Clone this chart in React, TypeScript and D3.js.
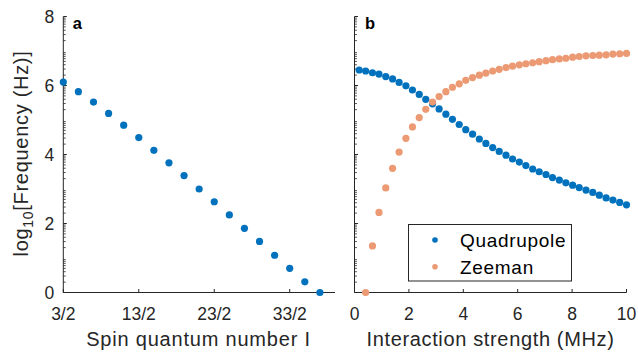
import React, { useEffect, useRef } from "react";
import * as d3 from "d3";

// panel a: spin quantum number I (as numbers) and log10 frequency
const spinValues = [1.5, 2.5, 3.5, 4.5, 5.5, 6.5, 7.5, 8.5, 9.5, 10.5, 11.5, 12.5, 13.5, 14.5, 15.5, 16.5, 17.5, 18.5];
const spinFreq = [6.1, 5.82, 5.52, 5.19, 4.85, 4.49, 4.12, 3.76, 3.39, 3.0, 2.63, 2.25, 1.86, 1.48, 1.08, 0.7, 0.31, 0.0];
const spinTicks = [1.5, 6.5, 11.5, 16.5];
const spinTickLabels = ["3/2", "13/2", "23/2", "33/2"];

// panel b: interaction strength (MHz)
const strength = [
  0.17, 0.41, 0.66, 0.9, 1.15, 1.4, 1.64, 1.89, 2.13, 2.38,
  2.62, 2.87, 3.11, 3.36, 3.6, 3.85, 4.09, 4.34, 4.59, 4.83,
  5.08, 5.32, 5.57, 5.81, 6.06, 6.3, 6.55, 6.79, 7.04, 7.28,
  7.53, 7.77, 8.02, 8.26, 8.51, 8.76, 9.0, 9.25, 9.5, 9.75, 10.0,
];
const quadrupole = [
  6.45, 6.42, 6.37, 6.33, 6.26, 6.19, 6.09, 5.99, 5.87, 5.74,
  5.6, 5.47, 5.32, 5.17, 5.02, 4.87, 4.72, 4.59, 4.45, 4.32,
  4.2, 4.09, 3.98, 3.87, 3.78, 3.68, 3.58, 3.5, 3.42, 3.33,
  3.26, 3.18, 3.11, 3.04, 2.97, 2.9, 2.82, 2.74, 2.68, 2.61, 2.54,
];
// zeeman starts at the second strength value
const zeeman = [
  0.0, 1.35, 2.32, 3.03, 3.6, 4.07, 4.47, 4.8, 5.07, 5.31,
  5.52, 5.68, 5.82, 5.95, 6.05, 6.15, 6.23, 6.3, 6.36, 6.42,
  6.47, 6.52, 6.56, 6.6, 6.63, 6.66, 6.69, 6.72, 6.75, 6.77,
  6.79, 6.82, 6.84, 6.86, 6.87, 6.88, 6.89, 6.91, 6.92, 6.93,
];
const yTicks = [0, 2, 4, 6, 8];
const bTicks = [0, 2, 4, 6, 8, 10];

const BLUE = "#0072BD";
const ORANGE = "#EC9A74";
const INK = "#262626";
const FONT = "'Liberation Sans', Arial, Helvetica, sans-serif";

function App() {
  const ref = useRef<SVGSVGElement>(null);

  useEffect(() => {
    const svg = d3.select(ref.current);
    svg.selectAll("*").remove();

    const y = d3.scaleLinear().domain([0, 8]).range([292.5, 16.5]);
    const xa = d3.scaleLinear().domain([1.5, 19.5]).range([63.3, 335]);
    const xb = d3.scaleLinear().domain([0, 10]).range([354.5, 626.5]);

    // log style minor ticks: n + log10(k)
    const minor: number[] = [];
    for (let n = 0; n < 8; n++) {
      for (let k = 2; k <= 9; k++) minor.push(n + Math.log10(k));
    }

    function drawAxes(x: d3.ScaleLinear<number, number>, xt: number[], xl: string[], showY: boolean) {
      const g = svg.append("g");
      const [x0, x1] = x.range();
      const [y0, y1] = y.range();

      g.append("line").attr("x1", x0).attr("x2", x1).attr("y1", y0).attr("y2", y0)
        .attr("stroke", INK).attr("stroke-width", 1);
      g.append("line").attr("x1", x0).attr("x2", x0).attr("y1", y0).attr("y2", y1)
        .attr("stroke", INK).attr("stroke-width", 1);

      // x ticks (inward)
      g.selectAll(".xt").data(xt).enter().append("line")
        .attr("x1", d => x(d)).attr("x2", d => x(d))
        .attr("y1", y0).attr("y2", y0 - 3.5)
        .attr("stroke", INK);
      g.selectAll(".xl").data(xt).enter().append("text")
        .attr("x", d => x(d)).attr("y", 319.5)
        .attr("text-anchor", "middle")
        .attr("font-size", 17.5).attr("fill", INK).attr("font-family", FONT)
        .text((d, i) => xl[i]);

      // y ticks
      g.selectAll(".yt").data(yTicks).enter().append("line")
        .attr("x1", x0).attr("x2", x0 + 3.5)
        .attr("y1", d => y(d)).attr("y2", d => y(d))
        .attr("stroke", INK);
      g.selectAll(".ym").data(minor).enter().append("line")
        .attr("x1", x0).attr("x2", x0 + 2.4)
        .attr("y1", d => y(d)).attr("y2", d => y(d))
        .attr("stroke", INK).attr("stroke-width", 0.8);
      if (showY) {
        g.selectAll(".yl").data(yTicks).enter().append("text")
          .attr("x", x0 - 9).attr("y", d => y(d))
          .attr("dy", "0.36em")
          .attr("text-anchor", "end")
          .attr("font-size", 17.5).attr("fill", INK).attr("font-family", FONT)
          .text(d => d);
      }
    }

    drawAxes(xa, spinTicks, spinTickLabels, true);
    drawAxes(xb, bTicks, bTicks.map(String), false);

    // panel a points
    svg.append("g").selectAll("circle").data(spinValues).enter().append("circle")
      .attr("cx", d => xa(d)).attr("cy", (d, i) => y(spinFreq[i]))
      .attr("r", 3.6).attr("fill", BLUE);

    // panel b points
    svg.append("g").selectAll("circle").data(quadrupole).enter().append("circle")
      .attr("cx", (d, i) => xb(strength[i])).attr("cy", d => y(d))
      .attr("r", 3.6).attr("fill", BLUE);
    svg.append("g").selectAll("circle").data(zeeman).enter().append("circle")
      .attr("cx", (d, i) => xb(strength[i + 1])).attr("cy", d => y(d))
      .attr("r", 3.6).attr("fill", ORANGE);

    // axis labels
    svg.append("text")
      .attr("x", 198.5).attr("y", 346)
      .attr("text-anchor", "middle")
      .attr("font-size", 20).attr("letter-spacing", 0.8)
      .attr("fill", INK).attr("font-family", FONT)
      .text("Spin quantum number I");
    svg.append("text")
      .attr("x", xb(5)).attr("y", 346)
      .attr("text-anchor", "middle")
      .attr("font-size", 20).attr("letter-spacing", 0.65)
      .attr("fill", INK).attr("font-family", FONT)
      .text("Interaction strength (MHz)");

    const yl = svg.append("text")
      .attr("transform", `translate(28,153.5) rotate(-90)`)
      .attr("text-anchor", "middle")
      .attr("font-size", 20).attr("letter-spacing", 0.7)
      .attr("fill", INK).attr("font-family", FONT);
    yl.append("tspan").text("log");
    yl.append("tspan").attr("font-size", 14).attr("dy", 5).text("10");
    yl.append("tspan").attr("dy", -5).text("[Frequency (Hz)]");

    // panel letters
    svg.append("text").attr("x", xa(1.5) + 9.5).attr("y", 28.5)
      .attr("font-size", 16.5).attr("font-weight", "bold").attr("font-family", FONT)
      .text("a");
    svg.append("text").attr("x", xb(0) + 10.5).attr("y", 28.5)
      .attr("font-size", 16.5).attr("font-weight", "bold").attr("font-family", FONT)
      .text("b");

    // legend
    const leg = svg.append("g");
    leg.append("rect").attr("x", 408.5).attr("y", 224.5).attr("width", 163).attr("height", 56.5)
      .attr("fill", "white").attr("stroke", INK).attr("stroke-width", 1);
    const items = [{ name: "Quadrupole", color: BLUE }, { name: "Zeeman", color: ORANGE }];
    items.forEach((it, i) => {
      const cy = 240 + i * 26.7;
      leg.append("circle").attr("cx", 435).attr("cy", cy).attr("r", 2.8).attr("fill", it.color);
      leg.append("text").attr("x", 460).attr("y", cy).attr("dy", "0.36em")
        .attr("font-size", 19).attr("letter-spacing", 0.7)
        .attr("fill", "#000").attr("font-family", FONT)
        .text(it.name);
    });
  }, []);

  return (
    <svg
      ref={ref}
      width={638}
      height={352}
      style={{ position: "absolute", left: 0, top: 0, background: "white" }}
    />
  );
}

export default App;
